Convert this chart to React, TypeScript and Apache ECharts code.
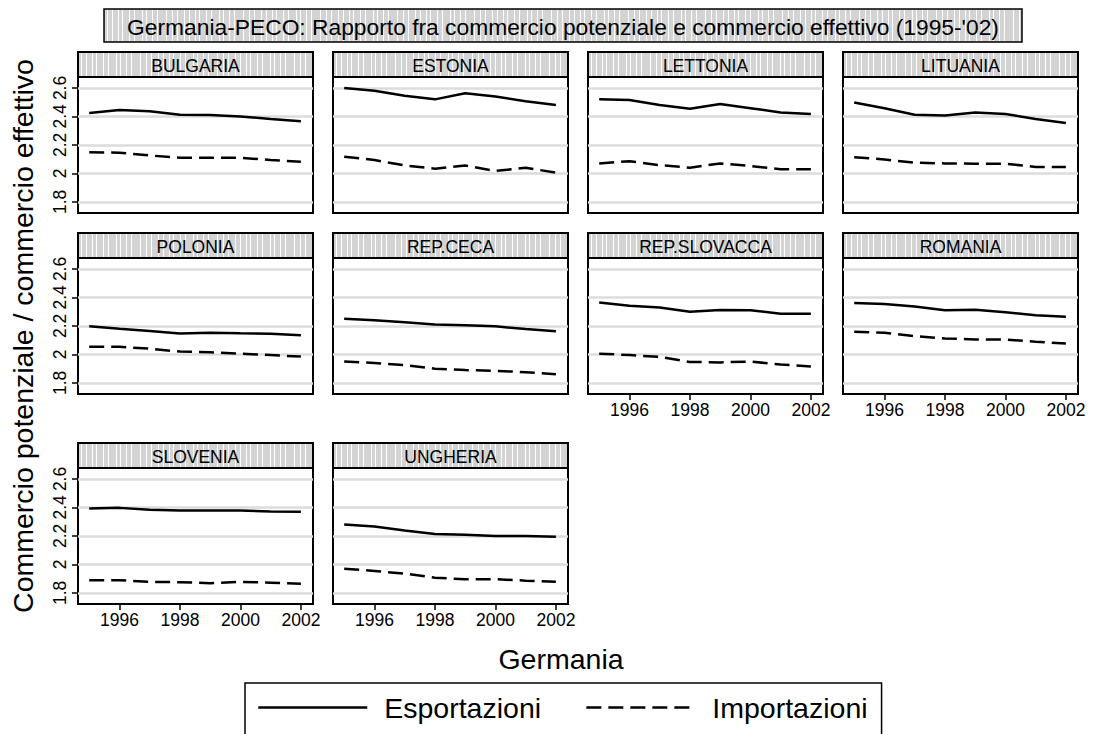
import React, { useEffect, useRef } from 'react';
import * as echarts from 'echarts';

const YEARS = [1995, 1996, 1997, 1998, 1999, 2000, 2001, 2002];
const COUNTRIES = ['BULGARIA', 'ESTONIA', 'LETTONIA', 'LITUANIA', 'POLONIA', 'REP.CECA', 'REP.SLOVACCA', 'ROMANIA', 'SLOVENIA', 'UNGHERIA'];

const EXP_BULGARIA = [2.424, 2.446, 2.436, 2.412, 2.41, 2.4, 2.382, 2.366];
const IMP_BULGARIA = [2.149, 2.145, 2.126, 2.11, 2.11, 2.11, 2.094, 2.082];
const EXP_ESTONIA = [2.6, 2.58, 2.545, 2.52, 2.563, 2.54, 2.507, 2.48];
const IMP_ESTONIA = [2.117, 2.094, 2.056, 2.033, 2.056, 2.017, 2.04, 2.005];
const EXP_LETTONIA = [2.52, 2.516, 2.48, 2.454, 2.488, 2.458, 2.428, 2.417];
const IMP_LETTONIA = [2.07, 2.086, 2.058, 2.04, 2.07, 2.052, 2.03, 2.03];
const EXP_LITUANIA = [2.498, 2.458, 2.412, 2.407, 2.428, 2.417, 2.382, 2.354];
const IMP_LITUANIA = [2.114, 2.098, 2.075, 2.07, 2.068, 2.068, 2.045, 2.045];
const EXP_POLONIA = [2.198, 2.18, 2.165, 2.147, 2.152, 2.148, 2.145, 2.135];
const IMP_POLONIA = [2.054, 2.053, 2.04, 2.02, 2.015, 2.005, 1.995, 1.985];
const EXP_REPCECA = [2.251, 2.24, 2.225, 2.21, 2.205, 2.197, 2.178, 2.163];
const IMP_REPCECA = [1.95, 1.94, 1.925, 1.9, 1.89, 1.885, 1.875, 1.861];
const EXP_REPSLOVACCA = [2.365, 2.342, 2.33, 2.3, 2.312, 2.31, 2.286, 2.286];
const IMP_REPSLOVACCA = [2.005, 1.996, 1.982, 1.947, 1.944, 1.95, 1.929, 1.915];
const EXP_ROMANIA = [2.361, 2.354, 2.337, 2.31, 2.314, 2.296, 2.275, 2.264];
const IMP_ROMANIA = [2.159, 2.152, 2.128, 2.112, 2.105, 2.105, 2.089, 2.077];
const EXP_SLOVENIA = [2.392, 2.397, 2.383, 2.378, 2.378, 2.378, 2.371, 2.369];
const IMP_SLOVENIA = [1.889, 1.889, 1.877, 1.875, 1.868, 1.877, 1.872, 1.865];
const EXP_UNGHERIA = [2.28, 2.266, 2.238, 2.213, 2.208, 2.199, 2.199, 2.195];
const IMP_UNGHERIA = [1.97, 1.954, 1.935, 1.907, 1.896, 1.896, 1.886, 1.879];

const EXPORTS = [EXP_BULGARIA, EXP_ESTONIA, EXP_LETTONIA, EXP_LITUANIA, EXP_POLONIA, EXP_REPCECA, EXP_REPSLOVACCA, EXP_ROMANIA, EXP_SLOVENIA, EXP_UNGHERIA];
const IMPORTS = [IMP_BULGARIA, IMP_ESTONIA, IMP_LETTONIA, IMP_LITUANIA, IMP_POLONIA, IMP_REPCECA, IMP_REPSLOVACCA, IMP_ROMANIA, IMP_SLOVENIA, IMP_UNGHERIA];

const Y_TICKS = [1.8, 2, 2.2, 2.4, 2.6];
const X_TICKS = [1996, 1998, 2000, 2002];
const SERIES_NAMES = ['Esportazioni', 'Importazioni'];
const TITLE = "Germania-PECO: Rapporto fra commercio potenziale e commercio effettivo (1995-'02)";
const X_TITLE = 'Germania';
const Y_TITLE = 'Commercio potenziale / commercio effettivo';

const FONT = "'Liberation Sans', Arial, Helvetica, sans-serif";
const COL_LEFT = [78, 333, 588, 843];
const PANEL_W = 235;
const ROW_TOP = [52, 233, 443];
const HEADER_H = 25;
const PLOT_H = 136;
const STRIPE_GAPS = [5, 6, 4, 7, 5, 8, 4, 6, 5, 9, 6, 5, 7];

function stripes(x: number, y: number, w: number, h: number) {
  const out: any[] = [];
  let px = x + 3;
  let k = 0;
  while (px < x + w - 2) {
    out.push({
      type: 'line',
      silent: true,
      z: 2,
      shape: { x1: Math.round(px) + 0.5, y1: y + 1, x2: Math.round(px) + 0.5, y2: y + h - 1 },
      style: { stroke: '#ffffff', lineWidth: 1 },
    });
    px += STRIPE_GAPS[k % STRIPE_GAPS.length];
    k++;
  }
  return out;
}

function strip(x: number, y: number, w: number, h: number, text: string, fontSize: number, border: number) {
  return [
    { type: 'rect', silent: true, z: 1, shape: { x, y, width: w, height: h }, style: { fill: '#d3d3d3' } },
    ...stripes(x, y, w, h),
    { type: 'rect', silent: true, z: 3, shape: { x, y, width: w, height: h }, style: { fill: 'none', stroke: '#000', lineWidth: border } },
    {
      type: 'text', silent: true, z: 4, x: x + w / 2, y: y + h / 2 + 1,
      style: { text, fontSize, fontFamily: FONT, fill: '#000', align: 'center', verticalAlign: 'middle' },
    },
  ];
}

export default function App() {
  const ref = useRef<HTMLDivElement>(null);

  useEffect(() => {
    if (!ref.current) return;
    const chart = echarts.init(ref.current, undefined, { renderer: 'svg' });

    const grids: any[] = [];
    const xAxes: any[] = [];
    const yAxes: any[] = [];
    const series: any[] = [];
    const graphics: any[] = [];

    COUNTRIES.forEach((name, i) => {
      const row = Math.floor(i / 4);
      const col = i % 4;
      const left = COL_LEFT[col];
      const top = ROW_TOP[row] + HEADER_H;
      const bottomPanel = i + 4 >= COUNTRIES.length;
      const leftPanel = col === 0;

      grids.push({
        left, top, width: PANEL_W, height: PLOT_H,
        show: true, borderColor: '#000', borderWidth: 2, backgroundColor: '#fff',
      });
      xAxes.push({
        type: 'value', gridIndex: i, min: 1994.63, max: 2002.4,
        axisLine: { show: false }, splitLine: { show: false },
        axisTick: { show: bottomPanel, customValues: X_TICKS, length: 6, lineStyle: { color: '#000', width: 1.5 } },
        axisLabel: {
          show: bottomPanel, customValues: X_TICKS, fontSize: 17.5, color: '#000', fontFamily: FONT, margin: 7,
          formatter: (v: number) => String(v),
        },
      });
      yAxes.push({
        type: 'value', gridIndex: i, min: 1.722, max: 2.677,
        axisLine: { show: false }, splitLine: { show: false },
        axisTick: { show: leftPanel, customValues: Y_TICKS, length: 6, lineStyle: { color: '#000', width: 1.5 } },
        axisLabel: {
          show: leftPanel, customValues: Y_TICKS, rotate: 90, fontSize: 17.5, color: '#000', fontFamily: FONT, margin: 9,
          formatter: (v: number) => String(v),
        },
      });

      series.push({
        name: 'griglia', type: 'line', xAxisIndex: i, yAxisIndex: i, silent: true, z: 1,
        data: YEARS.map((y, k) => [y, EXPORTS[i][k]]),
        symbol: 'none', showSymbol: false, lineStyle: { opacity: 0 },
        markLine: {
          silent: true, symbol: ['none', 'none'], label: { show: false },
          lineStyle: { color: '#dcdcdc', width: 2.5, type: 'solid' },
          emphasis: { disabled: true },
          data: Y_TICKS.map((v) => ({ yAxis: v })),
        },
      });
      series.push({
        name: SERIES_NAMES[0], type: 'line', xAxisIndex: i, yAxisIndex: i, z: 10,
        data: YEARS.map((y, k) => [y, EXPORTS[i][k]]),
        symbol: 'none', showSymbol: false,
        itemStyle: { color: '#000' },
        lineStyle: { color: '#000', width: 2.5, type: 'solid' },
        emphasis: { disabled: true },
      });
      series.push({
        name: SERIES_NAMES[1], type: 'line', xAxisIndex: i, yAxisIndex: i, z: 10,
        data: YEARS.map((y, k) => [y, IMPORTS[i][k]]),
        symbol: 'none', showSymbol: false,
        itemStyle: { color: '#000' },
        lineStyle: { color: '#000', width: 2.5, type: [15, 7] },
        emphasis: { disabled: true },
      });

      graphics.push(...strip(left, ROW_TOP[row], PANEL_W, HEADER_H, name, 17.5, 2));
    });

    graphics.push(...strip(104, 9, 918, 33, TITLE, 22.8, 1.5));
    graphics.push({
      type: 'text', silent: true, z: 4, x: 561, y: 659,
      style: { text: X_TITLE, fontSize: 28.5, fontFamily: FONT, fill: '#000', align: 'center', verticalAlign: 'middle' },
    });
    graphics.push({
      type: 'text', silent: true, z: 4, x: 23, y: 336, rotation: Math.PI / 2,
      style: { text: Y_TITLE, fontSize: 28.5, fontFamily: FONT, fill: '#000', align: 'center', verticalAlign: 'middle' },
    });

    chart.setOption({
      animation: false,
      backgroundColor: '#fff',
      grid: grids,
      xAxis: xAxes,
      yAxis: yAxes,
      series,
      graphic: { elements: graphics },
      legend: {
        data: SERIES_NAMES,
        left: 245, top: 683,
        orient: 'horizontal',
        itemWidth: 109, itemHeight: 28, itemGap: 44,
        padding: [10, 14, 40, 12],
        borderColor: '#000', borderWidth: 1.5, backgroundColor: '#fff',
        selectedMode: false,
        itemStyle: { opacity: 0 },
        lineStyle: { width: 2.5, color: '#000' },
        textStyle: { fontSize: 28.5, color: '#000', fontFamily: FONT, padding: [0, 0, 0, 12] },
      },
    });

    return () => chart.dispose();
  }, []);

  return <div ref={ref} style={{ position: 'absolute', left: 0, top: 0, width: 1093, height: 734 }} />;
}
